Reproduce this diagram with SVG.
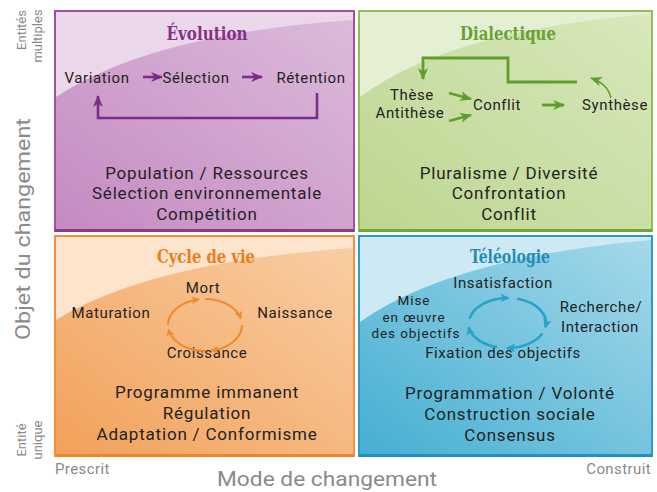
<svg xmlns="http://www.w3.org/2000/svg" width="657" height="492" viewBox="0 0 657 492">
<style>
.t{font-family:Roboto,"Liberation Sans",sans-serif;fill:#232323;text-anchor:middle}
.b{font-size:17px;letter-spacing:0.8px}
.s{font-size:15px;letter-spacing:0.6px}
.m{font-size:13.5px;letter-spacing:0.9px}
.ttl{font-family:"DejaVu Serif","Liberation Serif",serif;font-weight:bold;font-stretch:condensed;font-size:19px;text-anchor:middle}
.ax{font-family:Roboto,"Liberation Sans",sans-serif;fill:#8a8a8a}
.pl{fill:none;stroke:#7b2c8a;stroke-width:2.6}
.gl{fill:none;stroke:#5e9f2c;stroke-width:2.8}
.ol{fill:none;stroke:#f08a2a;stroke-width:2}
.bl{fill:none;stroke:#27a2c8;stroke-width:2.6}
</style>
<defs>
<linearGradient id="gp" x1="0" y1="1" x2="1" y2="0"><stop offset="0" stop-color="#c58ac1"/><stop offset="1" stop-color="#dcbcdb"/></linearGradient>
<linearGradient id="gg" x1="0" y1="1" x2="1" y2="0"><stop offset="0" stop-color="#bcd690"/><stop offset="1" stop-color="#d8e8bc"/></linearGradient>
<linearGradient id="go" x1="0" y1="1" x2="1" y2="0"><stop offset="0" stop-color="#f2a15a"/><stop offset="1" stop-color="#f9cfa6"/></linearGradient>
<linearGradient id="gb" x1="0" y1="1" x2="1" y2="0"><stop offset="0" stop-color="#45afd2"/><stop offset="1" stop-color="#a6d9ea"/></linearGradient>
<marker id="mp" markerUnits="userSpaceOnUse" markerWidth="12" markerHeight="10" refX="11" refY="5" orient="auto"><path d="M0,0 L12,5 L0,10 L3.5,5 z" fill="#7b2c8a"/></marker>
<marker id="mg" markerUnits="userSpaceOnUse" markerWidth="12" markerHeight="10" refX="11" refY="5" orient="auto"><path d="M0,0 L12,5 L0,10 L3.5,5 z" fill="#5e9f2c"/></marker>
<marker id="mo" markerUnits="userSpaceOnUse" markerWidth="8" markerHeight="8" refX="7" refY="4" orient="auto"><path d="M0,0 L8,4 L0,8 L2,4 z" fill="#f08a2a"/></marker>
<marker id="mb" markerUnits="userSpaceOnUse" markerWidth="9" markerHeight="9" refX="8" refY="4.5" orient="auto"><path d="M0,0 L9,4.5 L0,9 L2.5,4.5 z" fill="#27a2c8"/></marker>
</defs>
<rect width="657" height="492" fill="#ffffff"/>

<g id="evolution">
<rect x="55" y="11" width="299" height="220" fill="url(#gp)" stroke="#a4509f" stroke-width="2"/>
<path d="M56,12 L353,12 L353,20 Q150,34 56,97 Z" fill="#ebd7ea"/>
<line x1="55" y1="230.5" x2="354" y2="230.5" stroke="#8c3a88" stroke-width="3"/>
<text class="ttl" x="207" y="40" fill="#87308a" textLength="81" lengthAdjust="spacingAndGlyphs">Évolution</text>
<text class="t s" x="97" y="83">Variation</text>
<text class="t s" x="196" y="83">Sélection</text>
<text class="t s" x="311" y="83">Rétention</text>
<text class="t b" x="207" y="178.5">Population / Ressources</text>
<text class="t b" x="207" y="199">Sélection environnementale</text>
<text class="t b" x="207" y="219.5">Compétition</text>
</g>

<g id="dialectique">
<rect x="359" y="11" width="293" height="220" fill="url(#gg)" stroke="#8fc052" stroke-width="2"/>
<path d="M360,12 L651,12 L651,14 Q450,30 360,97 Z" fill="#e5efd3"/>
<line x1="359" y1="230.5" x2="652" y2="230.5" stroke="#6fa838" stroke-width="3"/>
<text class="ttl" x="508" y="40" fill="#68a232" textLength="96" lengthAdjust="spacingAndGlyphs">Dialectique</text>
<text class="t s" x="412" y="99.5">Thèse</text>
<text class="t s" x="410" y="118">Antithèse</text>
<text class="t s" x="497" y="110">Conflit</text>
<text class="t s" x="615" y="110">Synthèse</text>
<text class="t b" x="509" y="178.5">Pluralisme / Diversité</text>
<text class="t b" x="509" y="199">Confrontation</text>
<text class="t b" x="509" y="219.5">Conflit</text>
</g>

<g id="cycle-de-vie">
<rect x="55" y="236" width="299" height="220" fill="url(#go)" stroke="#f29240" stroke-width="2"/>
<path d="M56,237 L353,237 L353,248 Q150,262 56,320 Z" fill="#fde4cd"/>
<line x1="55" y1="455.5" x2="354" y2="455.5" stroke="#ee8526" stroke-width="3"/>
<text class="ttl" x="206" y="263" fill="#f07c18" textLength="98" lengthAdjust="spacingAndGlyphs">Cycle de vie</text>
<text class="t s" x="203" y="293">Mort</text>
<text class="t s" x="111" y="318">Maturation</text>
<text class="t s" x="295" y="318">Naissance</text>
<text class="t s" x="207" y="358">Croissance</text>
<text class="t b" x="207" y="398">Programme immanent</text>
<text class="t b" x="207" y="419">Régulation</text>
<text class="t b" x="207" y="440">Adaptation / Conformisme</text>
</g>

<g id="teleologie">
<rect x="359" y="236" width="293" height="220" fill="url(#gb)" stroke="#2a9cc6" stroke-width="2"/>
<path d="M360,237 L651,237 L651,240 Q450,258 360,322 Z" fill="#cde9f3"/>
<line x1="359" y1="455.5" x2="652" y2="455.5" stroke="#1f93be" stroke-width="3"/>
<text class="ttl" x="510" y="263" fill="#1f8db6" textLength="80" lengthAdjust="spacingAndGlyphs">Téléologie</text>
<text class="t s" x="503" y="288">Insatisfaction</text>
<text class="t m" x="414" y="305">Mise</text>
<text class="t m" x="414" y="321.5">en œuvre</text>
<text class="t m" x="416" y="338">des objectifs</text>
<text class="t s" x="601" y="312">Recherche/</text>
<text class="t s" x="600" y="332">Interaction</text>
<text class="t s" x="503" y="358">Fixation des objectifs</text>
<text class="t b" x="510" y="399">Programmation / Volonté</text>
<text class="t b" x="510" y="420">Construction sociale</text>
<text class="t b" x="510" y="441">Consensus</text>
</g>

<g id="connectors">
<line class="pl" x1="143" y1="77" x2="162" y2="77" marker-end="url(#mp)"/>
<line class="pl" x1="242" y1="77" x2="262" y2="77" marker-end="url(#mp)"/>
<polyline class="pl" points="317,93 317,118 98,118 98,96" marker-end="url(#mp)"/>
<polyline class="gl" points="577,82 508,82 508,58 423,58 423,79" marker-end="url(#mg)"/>
<path d="M611,98 Q608,84 591,78" fill="none" stroke="#5e9f2c" stroke-width="1.6" marker-end="url(#mg)"/>
<line class="gl" x1="449" y1="93" x2="471" y2="99" marker-end="url(#mg)"/>
<line class="gl" x1="449" y1="121" x2="471" y2="115" marker-end="url(#mg)"/>
<line class="gl" x1="542" y1="105" x2="564" y2="105" marker-end="url(#mg)"/>
<path class="ol" d="M168,325 A37,26 0 0 1 198.6,299.4" marker-end="url(#mo)"/>
<path class="ol" d="M205,299 A37,26 0 0 1 240.7,318.3" marker-end="url(#mo)"/>
<path class="ol" d="M242,325 A37,26 0 0 1 211.4,350.6" marker-end="url(#mo)"/>
<path class="ol" d="M205,351 A37,26 0 0 1 168.6,329.5" marker-end="url(#mo)"/>
<path class="bl" d="M469.6,318.7 A39,25 0 0 1 508.4,298" marker-end="url(#mb)"/>
<path class="bl" d="M517.1,298.8 A39,25 0 0 1 545.4,327.3" marker-end="url(#mb)"/>
<path class="bl" d="M542.3,333.6 A39,25 0 0 1 507,348" marker-end="url(#mb)"/>
<path class="bl" d="M496.9,347.1 A39,25 0 0 1 468.6,327.3" marker-end="url(#mb)"/>
</g>

<g id="axes">
<text class="ax" transform="translate(30,229) rotate(-90)" font-size="20" text-anchor="middle" textLength="222" lengthAdjust="spacingAndGlyphs">Objet du changement</text>
<text class="ax" transform="translate(26,30) rotate(-90)" font-size="13" text-anchor="middle">Entités</text>
<text class="ax" transform="translate(42,36) rotate(-90)" font-size="13" text-anchor="middle">multiples</text>
<text class="ax" transform="translate(26,440) rotate(-90)" font-size="13" text-anchor="middle">Entité</text>
<text class="ax" transform="translate(42,440) rotate(-90)" font-size="13" text-anchor="middle">unique</text>
<text class="ax" x="55" y="474" font-size="15" letter-spacing="0.4">Prescrit</text>
<text class="ax" x="651" y="474" font-size="15" letter-spacing="0.4" text-anchor="end">Construit</text>
<text class="ax" x="327" y="486" font-size="20" text-anchor="middle" textLength="220" lengthAdjust="spacingAndGlyphs">Mode de changement</text>
</g>
</svg>
